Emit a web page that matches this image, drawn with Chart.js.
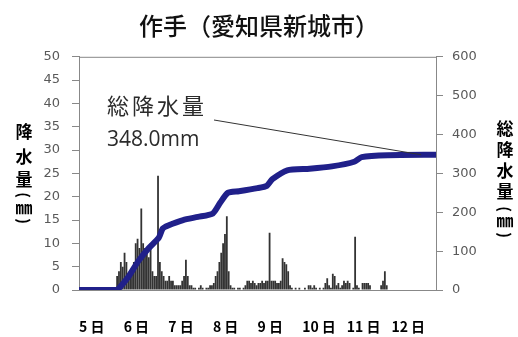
<!DOCTYPE html>
<html>
<head>
<meta charset="utf-8">
<script src="https://cdn.jsdelivr.net/npm/chart.js@4.4.0/dist/chart.umd.min.js"></script>
<style>
html,body{margin:0;padding:0;background:#fff;}
</style>
</head>
<body>
<canvas id="chart" width="518" height="337"></canvas>
<script>
// x軸ラベル（日）
const dayLabels = ["5 日", "6 日", "7 日", "8 日", "9 日", "10 日", "11 日", "12 日"];

// 1時間降水量 (mm) 各日 0-23時
const rainDay5  = [0,0,0,0,0,0,0,0,0,0,0,0,0,0,0,0,0,0,0,0,3,4,6,5];
const rainDay6  = [8,6,2,3,4,6,10,11,9,17.5,10,9,8,7,10,4,3,3,24.5,6,4,3,2,2];
const rainDay7  = [3,2,2,1,1,1,1,2,3,6.5,3,1,1,0.5,0.5,0,0.5,1,0.5,0,0.5,0.5,1,1];
const rainDay8  = [1.5,3,4,6,8,10,12,15.8,4,1,0.5,0.5,0,0.5,0.5,0,0.5,1,2,2,1.5,2,1.5,1];
const rainDay9  = [1.5,1.5,2,1.5,2,2,12.3,2,2,2,1.5,1.5,2,6.8,6,5.5,4,1,0.5,0,0.5,0,0.5,0];
const rainDay10 = [0,0.5,0,1,1,0.5,1,0.5,0,0.5,0,0.5,1.5,2.5,1,0.5,3.5,3,1,1.5,0.5,1,2,1.5];
const rainDay11 = [2,1.5,0,0.5,11.4,1,0.5,0,1.5,1.5,1.5,1.5,1,0,0,0,0,0,1,2,4,1,0,0];
const rainDay12 = [0,0,0,0,0,0,0,0,0,0,0,0,0,0,0,0,0,0,0,0,0,0,0,0];

// 総降水量 (mm) : 5日0時からの経過時間と読み取り値
const cumHour  = [0, 20, 21, 26, 32, 37, 43, 45, 48, 56, 64, 72, 76, 80, 86, 96, 101, 104, 112, 124, 136, 148, 152, 166, 192];
const cumTotal = [0, 0, 2, 30, 75, 105, 135, 158, 166, 180, 188, 197, 225, 250, 254, 262, 268, 285, 308, 312, 318, 330, 342, 347, 348];

const totalText = "348.0mm";

let hourly = [].concat(rainDay5, rainDay6, rainDay7, rainDay8, rainDay9, rainDay10, rainDay11, rainDay12);
let barData = hourly.map((v, i) => ({x: i + 0.5, y: v}));
let lineData = cumHour.map((h, i) => ({x: h, y: cumTotal[i]}));

const jp = "'Noto Sans CJK JP', 'Noto Sans', sans-serif";

// 枠・縦書き軸タイトル・注記
const extras = {
	id: "extras",
	beforeDatasetsDraw(chart){
		let ctx = chart.ctx, a = chart.chartArea;
		ctx.save();
		ctx.strokeStyle = "#888";
		ctx.lineWidth = 1;
		ctx.beginPath();
		ctx.moveTo(a.left, a.top + 0.5);
		ctx.lineTo(a.right, a.top + 0.5);
		ctx.stroke();
		ctx.restore();
	},
	afterDatasetsDraw(chart){
		let ctx = chart.ctx;
		let xs = chart.scales.x, y2 = chart.scales.y2;
		ctx.save();

		// 注記の引出線
		ctx.strokeStyle = "#333";
		ctx.lineWidth = 1;
		ctx.beginPath();
		ctx.moveTo(214, 120);
		ctx.lineTo(xs.getPixelForValue(184), y2.getPixelForValue(348));
		ctx.stroke();

		ctx.fillStyle = "#2b2b2b";
		ctx.textAlign = "left";
		ctx.textBaseline = "middle";
		ctx.font = "22px " + jp;
		ctx.letterSpacing = "3px";
		ctx.fillText("総降水量", 107, 106);
		ctx.letterSpacing = "0px";
		ctx.font = "21px 'Open Sans', sans-serif";
		ctx.fillText(totalText, 107, 140);

		// 縦書きの軸タイトル
		ctx.fillStyle = "#000";
		ctx.textAlign = "center";
		let drawStack = function(chars, x, ys){
			for(let i=0; i<chars.length; i++){
				let c = chars[i];
				if(c === "(" || c === ")"){
					ctx.save();
					ctx.translate(x, ys[i]);
					ctx.rotate(Math.PI / 2);
					ctx.font = "bold 15px " + jp;
					ctx.fillText(c, 0, 0);
					ctx.restore();
				} else {
					ctx.font = "bold 17px " + jp;
					ctx.fillText(c, x, ys[i]);
				}
			}
		};
		drawStack(["降","水","量","(","㎜",")"], 24, [132,157,180,195,208,221]);
		drawStack(["総","降","水","量","(","㎜",")"], 505, [129,150,171,192,209,221,235]);
		ctx.restore();
	}
};

let ctx = document.getElementById("chart").getContext("2d");

new Chart(ctx, {
	type: "bar",
	data: {
		datasets: [{
			type: "line",
			label: "総降水量",
			data: lineData,
			yAxisID: "y2",
			borderColor: "#20208a",
			borderWidth: 6,
			pointRadius: 0,
			tension: 0.2,
			order: 1
		},{
			type: "bar",
			label: "降水量",
			data: barData,
			yAxisID: "y",
			backgroundColor: "#333333",
			barPercentage: 1,
			categoryPercentage: 0.97,
			order: 2
		}]
	},
	options: {
		responsive: false,
		animation: false,
		layout: { padding: 0 },
		plugins: {
			legend: { display: false },
			tooltip: { enabled: false },
			title: {
				display: true,
				text: "作手（愛知県新城市）",
				color: "#111",
				font: { family: jp, size: 24, weight: "500" },
				padding: { top: 11, bottom: 17 }
			}
		},
		scales: {
			x: {
				type: "linear",
				min: 0,
				max: 192,
				offset: false,
				grid: { display: false, drawTicks: false },
				border: { display: true, color: "#888" },
				afterBuildTicks(axis){
					axis.ticks = dayLabels.map((d, i) => ({value: i * 24}));
				},
				afterFit(s){ s.height = 47; },
				ticks: {
					align: "start",
					autoSkip: false,
					maxRotation: 0,
					padding: 28,
					color: "#000",
					font: { family: jp, size: 14, weight: "bold" },
					callback: (v) => dayLabels[Math.round(v / 24)]
				}
			},
			y: {
				position: "left",
				min: 0,
				max: 50,
				afterFit(s){ s.width = 79; },
				grid: { drawOnChartArea: false, tickLength: 7, color: "#888" },
				border: { color: "#888" },
				ticks: {
					stepSize: 5,
					padding: 12,
					color: "#595959",
					font: { family: "'DejaVu Sans', sans-serif", size: 13 }
				}
			},
			y2: {
				position: "right",
				min: 0,
				max: 600,
				afterFit(s){ s.width = 82; },
				grid: { drawOnChartArea: false, tickLength: 7, color: "#888" },
				border: { color: "#888" },
				ticks: {
					stepSize: 100,
					padding: 9,
					color: "#595959",
					font: { family: "'DejaVu Sans', sans-serif", size: 13 }
				}
			}
		}
	},
	plugins: [extras]
});
</script>
</body>
</html>
